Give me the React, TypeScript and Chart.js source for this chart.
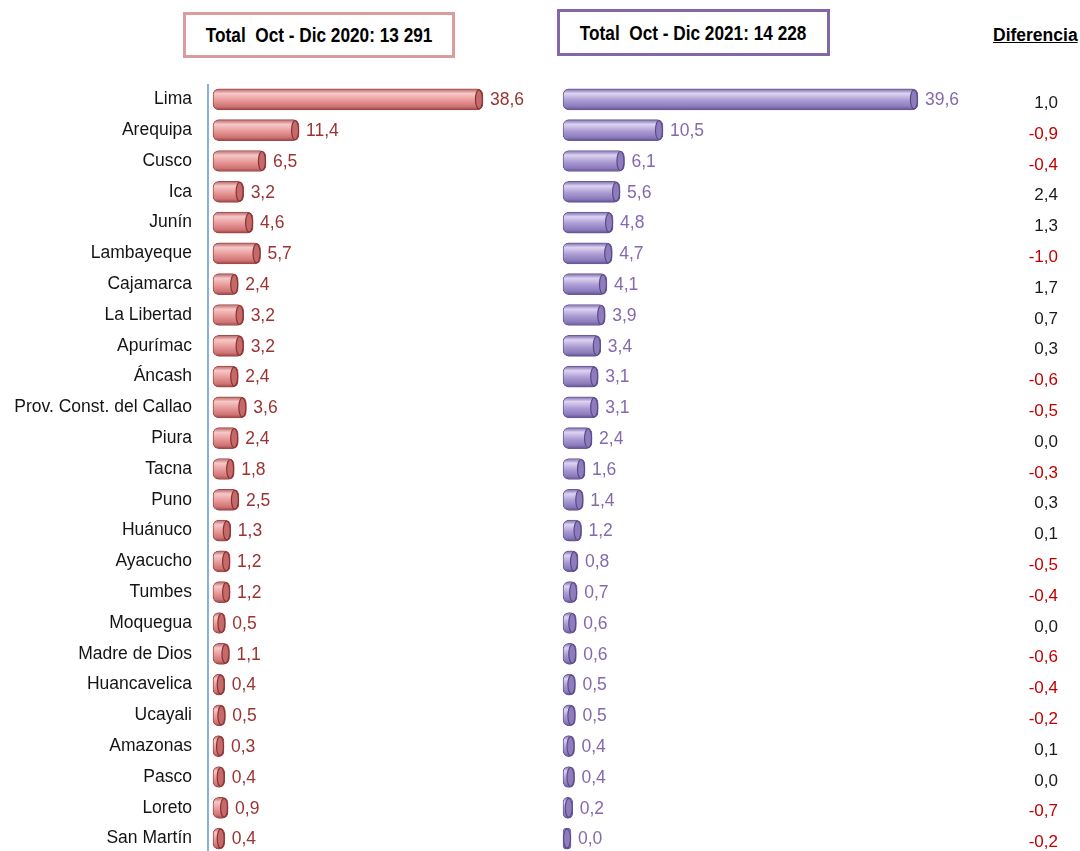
import React, { useEffect, useRef } from "react";
import { Chart, registerables } from "chart.js";

Chart.register(...registerables);

const regions = [
  "Lima", "Arequipa", "Cusco", "Ica", "Junín", "Lambayeque", "Cajamarca",
  "La Libertad", "Apurímac", "Áncash", "Prov. Const. del Callao", "Piura",
  "Tacna", "Puno", "Huánuco", "Ayacucho", "Tumbes", "Moquegua",
  "Madre de Dios", "Huancavelica", "Ucayali", "Amazonas", "Pasco", "Loreto",
  "San Martín",
];
const share2020 = [
  38.6, 11.4, 6.5, 3.2, 4.6, 5.7, 2.4, 3.2, 3.2, 2.4, 3.6, 2.4, 1.8, 2.5,
  1.3, 1.2, 1.2, 0.5, 1.1, 0.4, 0.5, 0.3, 0.4, 0.9, 0.4,
];
const share2021 = [
  39.6, 10.5, 6.1, 5.6, 4.8, 4.7, 4.1, 3.9, 3.4, 3.1, 3.1, 2.4, 1.6, 1.4,
  1.2, 0.8, 0.7, 0.6, 0.6, 0.5, 0.5, 0.4, 0.4, 0.2, 0.0,
];
const difference = [
  1.0, -0.9, -0.4, 2.4, 1.3, -1.0, 1.7, 0.7, 0.3, -0.6, -0.5, 0.0, -0.3, 0.3,
  0.1, -0.5, -0.4, 0.0, -0.6, -0.4, -0.2, 0.1, 0.0, -0.7, -0.2,
];
const title2020 = "Total  Oct - Dic 2020: 13 291";
const title2021 = "Total  Oct - Dic 2021: 14 228";
const diffTitle = "Diferencia";

const FONT = "'Liberation Sans', Arial, sans-serif";
const fmt = (v: number) => v.toFixed(1).replace(".", ",");

type Stops = [number, string][];
const pinkStops: Stops = [
  [0, "#b86464"],
  [0.22, "#f6c8c8"],
  [0.55, "#e99898"],
  [0.85, "#cd7373"],
  [1, "#9a4040"],
];
const purpleStops: Stops = [
  [0, "#7a6aab"],
  [0.22, "#ddd4f2"],
  [0.55, "#aa9bd3"],
  [0.85, "#8b7abb"],
  [1, "#5f4f8f"],
];

const BAR_H = 21;

const gradient = (stops: Stops) => (ctx: any) => {
  const chart = ctx.chart;
  const y = chart.scales?.y;
  if (!y || ctx.type !== "data") return stops[2][1];
  const c = y.getPixelForValue(ctx.dataIndex);
  if (!Number.isFinite(c)) return stops[2][1];
  const g = chart.ctx.createLinearGradient(0, c - BAR_H / 2, 0, c + BAR_H / 2);
  stops.forEach(([o, col]) => g.addColorStop(o, col));
  return g;
};

const makeDecor = (capFill: string, capStroke: string, labelColor: string) => ({
  id: "decor",
  afterDatasetsDraw(chart: any) {
    const ctx = chart.ctx;
    const meta = chart.getDatasetMeta(0);
    const data = chart.data.datasets[0].data as number[];
    ctx.save();
    meta.data.forEach((el: any, i: number) => {
      const { x, y, height } = el.getProps(["x", "y", "height"], true);
      if (!Number.isFinite(x) || !Number.isFinite(y)) return;
      ctx.beginPath();
      ctx.ellipse(x - 4, y, 3.5, Math.max(1, height / 2 - 1), 0, 0, Math.PI * 2);
      ctx.fillStyle = capFill;
      ctx.fill();
      ctx.lineWidth = 1.2;
      ctx.strokeStyle = capStroke;
      ctx.stroke();
      ctx.fillStyle = labelColor;
      ctx.font = `17.5px ${FONT}`;
      ctx.textAlign = "left";
      ctx.textBaseline = "middle";
      ctx.fillText(fmt(data[i]), x + 7, y + 1);
    });
    ctx.restore();
  },
});

const diffPlugin = {
  id: "diffs",
  afterDraw(chart: any) {
    const ctx = chart.ctx;
    const y = chart.scales.y;
    ctx.save();
    ctx.font = `17px ${FONT}`;
    ctx.textAlign = "right";
    ctx.textBaseline = "middle";
    difference.forEach((d, i) => {
      ctx.fillStyle = d < 0 ? "#c00000" : "#1a1a1a";
      ctx.fillText(fmt(d), chart.width - 22, y.getPixelForValue(i) + 4);
    });
    ctx.restore();
  },
};

function BarPanel(props: {
  values: number[];
  stops: Stops;
  border: string;
  capFill: string;
  capStroke: string;
  labelColor: string;
  xMin: number;
  xMax: number;
  base: number;
  showAxis: boolean;
  withDiff: boolean;
  left: number;
}) {
  const ref = useRef<HTMLCanvasElement>(null);
  useEffect(() => {
    if (!ref.current) return;
    const plugins: any[] = [makeDecor(props.capFill, props.capStroke, props.labelColor)];
    if (props.withDiff) plugins.push(diffPlugin);
    const chart = new Chart(ref.current, {
      type: "bar",
      data: {
        labels: regions,
        datasets: [
          {
            data: props.values,
            base: props.base,
            backgroundColor: gradient(props.stops) as any,
            borderColor: props.border,
            borderWidth: 1,
            borderRadius: 6,
            borderSkipped: false,
            barThickness: BAR_H,
          } as any,
        ],
      },
      options: {
        indexAxis: "y",
        animation: false,
        responsive: false,
        maintainAspectRatio: false,
        layout: { padding: 0 },
        plugins: {
          legend: { display: false },
          tooltip: { enabled: false },
        },
        scales: {
          x: { display: false, min: props.xMin, max: props.xMax },
          y: props.showAxis
            ? {
                position: "left",
                grid: { display: false, drawTicks: false },
                border: { display: true, color: "#8cb0dd", width: 2 },
                ticks: {
                  padding: 16,
                  color: "#141414",
                  font: { family: FONT, size: 17.5 },
                  autoSkip: false,
                },
                afterFit: (s: any) => {
                  s.width = 208;
                  s.paddingTop = 0;
                  s.paddingBottom = 0;
                },
              }
            : { display: false },
        },
      } as any,
      plugins,
    });
    return () => chart.destroy();
  }, []);
  return (
    <canvas
      ref={ref}
      width={540}
      height={770}
      style={{ position: "absolute", left: props.left, top: 84, display: "block" }}
    />
  );
}

const titleText: React.CSSProperties = {
  fontFamily: FONT,
  fontWeight: "bold",
  fontSize: 21,
  whiteSpace: "pre",
  color: "#000",
  transform: "scaleX(0.82)",
  transformOrigin: "center",
  display: "inline-block",
};

export default function App() {
  return (
    <div
      style={{
        position: "absolute",
        left: 0,
        top: 0,
        width: 1080,
        height: 851,
        overflow: "hidden",
        background: "#fff",
      }}
    >
      <div
        style={{
          position: "absolute",
          left: 183,
          top: 12,
          width: 272,
          height: 46,
          boxSizing: "border-box",
          border: "3px solid #dc9c9c",
          display: "flex",
          alignItems: "center",
          justifyContent: "center",
        }}
      >
        <span style={titleText}>{title2020}</span>
      </div>
      <div
        style={{
          position: "absolute",
          left: 557,
          top: 9,
          width: 273,
          height: 47,
          boxSizing: "border-box",
          border: "3px solid #8467a9",
          display: "flex",
          alignItems: "center",
          justifyContent: "center",
        }}
      >
        <span style={titleText}>{title2021}</span>
      </div>
      <div
        style={{
          position: "absolute",
          left: 993,
          top: 24,
          fontFamily: FONT,
          fontWeight: "bold",
          fontSize: 17.5,
          lineHeight: "22px",
          textDecoration: "underline",
          color: "#000",
          whiteSpace: "pre",
        }}
      >
        {diffTitle}
      </div>
      <BarPanel
        values={share2020}
        stops={pinkStops}
        border="#a04a4a"
        capFill="#c46a6a"
        capStroke="#8a3030"
        labelColor="#9b3333"
        xMin={-2.07}
        xMax={47.04}
        base={-1.33}
        showAxis={true}
        withDiff={false}
        left={0}
      />
      <BarPanel
        values={share2021}
        stops={purpleStops}
        border="#6a5a98"
        capFill="#8e7cbd"
        capStroke="#5a4a88"
        labelColor="#8469b0"
        xMin={-3.54}
        xMax={58.1}
        base={-0.91}
        showAxis={false}
        withDiff={true}
        left={540}
      />
    </div>
  );
}
